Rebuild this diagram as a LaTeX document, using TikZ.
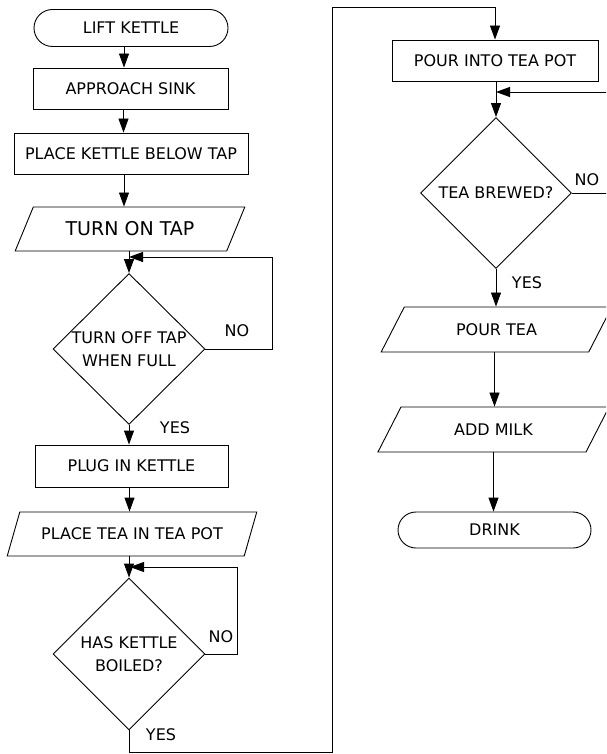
\documentclass[tikz,border=0pt]{standalone}
\usepackage{fontspec}
\setmainfont{DejaVu Sans}
\usetikzlibrary{shapes.geometric,shapes.misc,arrows.meta}
\begin{document}
\begin{tikzpicture}[x=1pt,y=-1pt,
  every node/.style={font=\fontsize{16}{23}\selectfont, inner sep=0pt},
  lw/.style={line width=0.9pt},
  term/.style={lw, draw, rounded rectangle, minimum width=#1, minimum height=37pt},
  proc/.style={lw, draw, rectangle, minimum width=#1, minimum height=41pt},
  io/.style={lw, draw, trapezium, trapezium left angle=50, trapezium right angle=130,
    trapezium stretches=true, minimum width=#1, minimum height=44pt},
  dec/.style={lw, draw, diamond, minimum width=152pt, minimum height=151pt, align=center},
  arr/.style={lw, -{Triangle[length=14pt,width=10pt]}},
  ln/.style={lw}
]
\fill[white] (0,0) rectangle (606,754);
\useasboundingbox (0,0) rectangle (606,754);
\clip (0,0) rectangle (606,754);

% left column
\node[term=194pt] (lift) at (131,28) {LIFT KETTLE};
\node[proc=195pt] (appr) at (130.5,88.5) {APPROACH SINK};
\node[proc=234pt] (below) at (131,153.5) {PLACE KETTLE BELOW TAP};
\node[io=230pt] (tap) at (130,229) {\fontsize{19}{22}\selectfont TURN ON TAP};
\node[dec] (d1) at (129,349) {TURN OFF TAP\\WHEN FULL};
\node[proc=193pt, minimum height=42pt] (plug) at (131.5,466) {PLUG IN KETTLE};
\node[io=250pt] (tea) at (132,534) {PLACE TEA IN TEA POT};
\node[dec, minimum height=152pt] (d2) at (129,654) {HAS KETTLE\\BOILED?};

% right column
\node[proc=206pt] (pour) at (495,60.5) {POUR INTO TEA POT};
\node[dec, minimum width=151pt] (d3) at (496,193) {TEA BREWED?};
\node[io=231pt, minimum height=45pt] (ptea) at (496.5,329.5) {POUR TEA};
\node[io=233pt, minimum height=45pt] (milk) at (493.5,429.5) {ADD MILK};
\node[term=193pt, minimum height=36pt] (drink) at (494.5,530) {DRINK};

% labels
\node (no1) at (237,331) {NO};
\node (yes1) at (175,428) {YES};
\node (no2) at (221,637) {NO};
\node (yes2) at (161,735) {YES};
\node (no3) at (587,180) {NO};
\node (yes3) at (527,283) {YES};

% coordinates for loops
\coordinate (j1) at (129,257);
\coordinate (r1) at (272,349);
\coordinate (j2) at (130,567);
\coordinate (r2) at (237,654);
\coordinate (j3) at (496,92);
\coordinate (r3) at (625,193);
\coordinate (yb) at (332,752);
\coordinate (yt) at (332,7);

% main flow left
\draw[arr] ([xshift=-7pt]lift.south) -- ([xshift=-7pt]lift.south |- appr.north);
\draw[arr] ([xshift=-7pt]appr.south) -- ([xshift=-7pt]appr.south |- below.north);
\draw[arr] ([xshift=-7pt]below.south) -- ([xshift=-7pt]below.south |- tap.north);
\draw[arr] (d1.north |- tap.south) -- (d1.north);
\draw[arr] (d1.east) -- (r1) |- (j1);
\draw[arr] (d1.south) -- (d1.south |- plug.north);
\draw[arr] ([xshift=-2pt]plug.south) -- ([xshift=-2pt]plug.south |- tea.north);
\draw[arr] (d2.north |- tea.south) -- (d2.north);
\draw[arr] (d2.east) -- (r2) |- (j2);
\draw[arr] (d2.south) |- (yb) -- (yt) -| (pour.north);

% main flow right
\draw[arr] (d3.north |- pour.south) -- (d3.north);
\draw[arr] (d3.east) -- (r3) |- (j3);
\draw[arr] (d3.south) -- (d3.south |- ptea.north);
\draw[arr] ([xshift=-2pt]ptea.south) -- ([xshift=-2pt]ptea.south |- milk.north);
\draw[arr] (milk.south) -- (milk.south |- drink.north);
\end{tikzpicture}
\end{document}
